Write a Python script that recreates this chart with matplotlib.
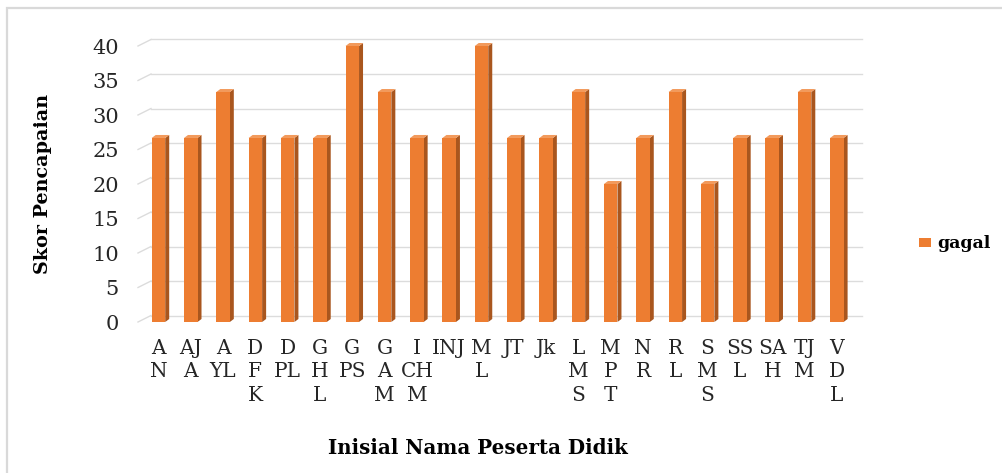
import matplotlib
matplotlib.use("Agg")
import matplotlib.pyplot as plt
from matplotlib.patches import Rectangle, Polygon
from matplotlib.lines import Line2D

categories = ["A\nN", "AJ\nA", "A\nYL", "D\nF\nK", "D\nPL", "G\nH\nL", "G\nPS",
              "G\nA\nM", "I\nCH\nM", "INJ", "M\nL", "JT", "Jk", "L\nM\nS",
              "M\nP\nT", "N\nR", "R\nL", "S\nM\nS", "SS\nL", "SA\nH", "TJ\nM", "V\nD\nL"]
gagal = [26.67, 26.67, 33.33, 26.67, 26.67, 26.67, 40, 33.33, 26.67, 26.67, 40,
         26.67, 26.67, 33.33, 20, 26.67, 33.33, 20, 26.67, 26.67, 33.33, 26.67]
yticks = [0, 5, 10, 15, 20, 25, 30, 35, 40]
series_name = "gagal"

FONT = "DejaVu Serif"
plt.rcParams['font.family'] = [FONT, 'DejaVu Sans']

W, H = 1003, 473
fig = plt.figure(figsize=(W / 100, H / 100), dpi=100)
fig.patch.set_facecolor("white")

ax_l, ax_r, ax_b, ax_t = 142.3, 853.0, 322.0, 46.0
ax = fig.add_axes([ax_l / W, 1 - ax_b / H, (ax_r - ax_l) / W, (ax_b - ax_t) / H])
n = len(categories)
ax.set_xlim(-0.5, n - 0.5)
ax.set_ylim(0, 40)
for s in ax.spines.values():
    s.set_visible(False)

sx = (ax_r - ax_l) / n
sy = (ax_b - ax_t) / 40.0

def px2x(px):
    return (px - ax_l) / sx - 0.5

# gridlines with 3D back-wall look
gdx, gdy = 13.0, 6.5
for v in yticks:
    yb = v + gdy / sy
    ax.add_line(Line2D([px2x(138), px2x(138 + gdx)], [v, yb], color="#DCDCDC", lw=1.0,
                       clip_on=False, zorder=1))
    ax.add_line(Line2D([px2x(138 + gdx), px2x(862)], [yb, yb], color="#DCDCDC", lw=1.0,
                       clip_on=False, zorder=1))

# 3D-looking bars
bw = 13.5 / sx
ddx, ddy = 4.0 / sx, 3.0 / sy
front_c, side_c, top_c = "#ED7D31", "#A9561E", "#F29A5C"
for i, v in enumerate(gagal):
    x0, x1 = i - bw / 2, i + bw / 2
    ax.add_patch(Polygon([(x1, 0), (x1 + ddx, ddy), (x1 + ddx, v + ddy), (x1, v)],
                         closed=True, facecolor=side_c, edgecolor="none", zorder=3, clip_on=False))
    ax.add_patch(Polygon([(x0, v), (x0 + ddx, v + ddy), (x1 + ddx, v + ddy), (x1, v)],
                         closed=True, facecolor=top_c, edgecolor="none", zorder=3, clip_on=False))
    ax.add_patch(Rectangle((x0, 0), bw, v, facecolor=front_c, edgecolor="none", zorder=4,
                           clip_on=False))

ax.set_yticks(yticks)
ax.set_yticklabels([str(t) for t in yticks], fontsize=15, color="#262626")
ax.set_xticks(range(n))
ax.set_xticklabels(categories, fontsize=14.5, color="#262626", linespacing=1.3,
                   va="top", ha="center")
ax.tick_params(axis="y", length=0, pad=17)
ax.tick_params(axis="x", length=0, pad=12)

ax.set_ylabel("Skor Pencapaian", fontsize=13.8, fontweight="bold", color="#000000")
ax.yaxis.set_label_coords(-(ax_l - 52) / (ax_r - ax_l), 0.5)
fig.text(478 / W, 1 - 448 / H, "Inisial Nama Peserta Didik", fontsize=14.3, fontweight="bold",
         ha="center", va="center", color="#000000")

# legend
fig.patches.append(Rectangle((919 / W, 1 - 247 / H), 12 / W, 9 / H, transform=fig.transFigure,
                             facecolor=front_c, edgecolor="none"))
fig.text(937 / W, 1 - 243 / H, series_name, fontsize=12.5, fontweight="bold", ha="left",
         va="center", color="#000000")

# chart border
fig.patches.append(Rectangle((7 / W, -0.1), 1.2, (H - 8) / H + 0.1, transform=fig.transFigure,
                             facecolor="none", edgecolor="#D9D9D9", lw=1.6))

fig.savefig("out.png", dpi=100, facecolor="white")
